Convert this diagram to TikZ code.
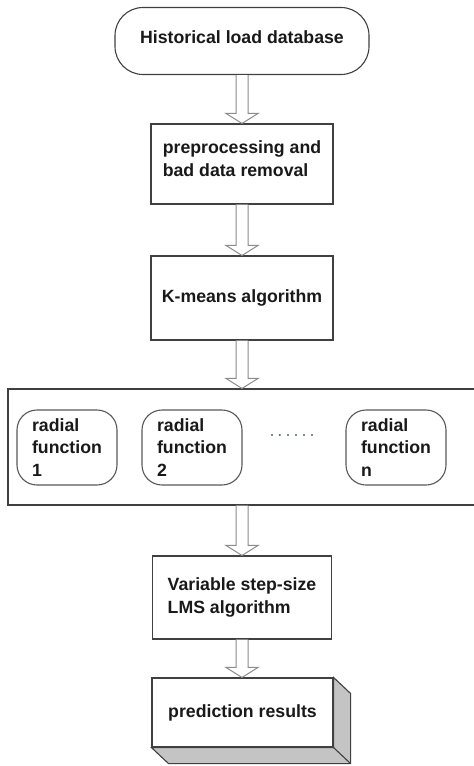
\documentclass[tikz,border=0pt]{standalone}
\usepackage{fontspec}
\setmainfont{Liberation Sans}
\usetikzlibrary{calc}
\definecolor{boxline}{HTML}{404040}
\definecolor{arrline}{HTML}{8C8C8C}
\definecolor{sidefill}{HTML}{C4C4C4}
\definecolor{dotcol}{HTML}{5F6E84}
\tikzset{
  txt/.style={font=\fontsize{17.7}{22.8}\selectfont\bfseries, text=black!90},
  plainbox/.style={txt, draw=boxline, line width=1.1pt, fill=white, align=left, inner sep=0pt},
  roundbox/.style={plainbox, rounded corners=28pt},
  radbox/.style={plainbox, draw=black!65, rounded corners=20pt, minimum width=100pt, minimum height=75pt},
  harr/.style={draw=arrline, line width=1pt, fill=white, line join=miter},
}
\newcommand\harrow[2]{%
  \draw[harr] let \p1=(#1.south), \p2=(#2.north) in
    (\x1-6pt,\y1) -- (\x1-6pt,\y2+10pt) -- (\x1-16pt,\y2+10pt) -- (\x1,\y2)
    -- (\x1+16pt,\y2+10pt) -- (\x1+6pt,\y2+10pt) -- (\x1+6pt,\y1);}
\newcommand\dotsp{\hspace{3pt}}
\begin{document}
\begin{tikzpicture}[x=1pt,y=-1pt]
\useasboundingbox (0,0) rectangle (474,766);
\fill[white] (0,0) rectangle (474,766);
\clip (0,0) rectangle (474,766);

\node[roundbox, minimum width=254pt, minimum height=67pt, text depth=8pt] (hist) at (242,41) {Historical load database};
\node[plainbox, minimum width=182pt, minimum height=80pt, text depth=11pt] (pre) at (242,164) {preprocessing and\\bad data removal};
\node[plainbox, minimum width=182pt, minimum height=84pt] (km) at (242,298) {K-means algorithm};
\node[plainbox, minimum width=480pt, minimum height=116pt] (big) at (248,447) {};
\node[radbox] (r1) at (67,447.5) {radial\\function\\1};
\node[radbox] (r2) at (192,447.5) {radial\\function\\2};
\node[radbox] (rn) at (396,447.5) {radial\\function\\n};
\node[font=\fontsize{18}{18}\selectfont, text=dotcol, inner sep=0pt] (dots) at (292,436) {.\dotsp.\dotsp.\dotsp.\dotsp.\dotsp.};
\node[plainbox, minimum width=179pt, minimum height=83pt] (lms) at (242,597.5) {Variable step-size\\LMS algorithm};
\node[plainbox, minimum width=181pt, minimum height=69pt] (pred) at (242.5,712.5) {prediction results};

\draw[draw=boxline, line width=1.1pt, fill=sidefill, line join=miter]
  (pred.north east) -- ++(17,16) -- ($(pred.south east)+(17,16)$)
  -- ($(pred.south west)+(17,16)$) -- (pred.south west) -- (pred.south east) -- cycle;
\draw[draw=boxline, line width=1.1pt] (pred.south east) -- ++(17,16);

\harrow{hist}{pre}
\harrow{pre}{km}
\harrow{km}{big}
\draw[harr] let \p1=(big.south), \p2=(lms.north), \p3=(lms.south) in
    (\x3-6pt,\y1) -- (\x3-6pt,\y2+10pt) -- (\x3-16pt,\y2+10pt) -- (\x3,\y2)
    -- (\x3+16pt,\y2+10pt) -- (\x3+6pt,\y2+10pt) -- (\x3+6pt,\y1);
\harrow{lms}{pred}
\end{tikzpicture}
\end{document}
